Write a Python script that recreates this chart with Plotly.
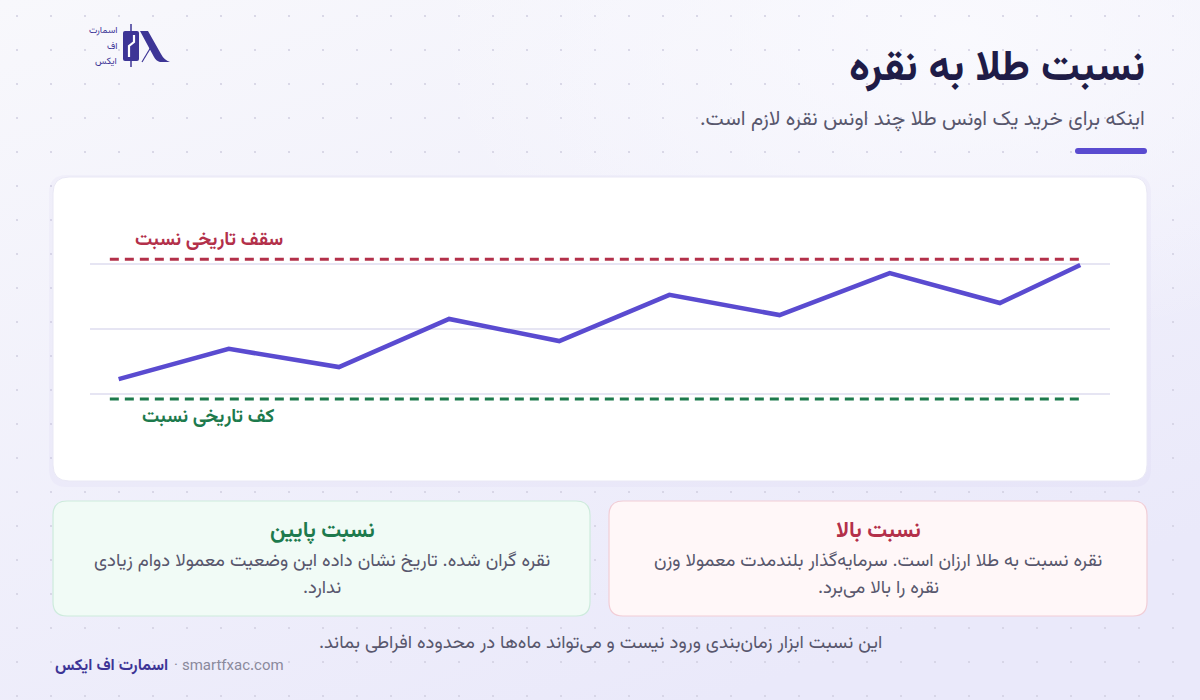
import base64
import plotly.graph_objects as go

W, H = 1200, 700

# ---------------- data ----------------
period = [0, 1, 2, 3, 4, 5, 6, 7, 8, 8.73]
ratio = [54.6, 63.9, 58.3, 73.1, 66.3, 80.5, 74.3, 87.2, 78.0, 89.7]
ceiling_value = 91.5
floor_value = 48.5
guide_span = [-0.08, 8.76]
grid_values = [50, 70, 90]

title = "نسبت طلا به نقره"
subtitle = "اینکه برای خرید یک اونس طلا چند اونس نقره لازم است.\u200f"
ceiling_label = "سقف تاریخی نسبت"
floor_label = "کف تاریخی نسبت"
high_title = "نسبت بالا"
high_lines = ["نقره نسبت به طلا ارزان است. سرمایه\u200cگذار بلندمدت معمولا وزن",
              "نقره را بالا می\u200cبرد.\u200f"]
low_title = "نسبت پایین"
low_lines = ["نقره گران شده. تاریخ نشان داده این وضعیت معمولا دوام زیادی",
             "ندارد.\u200f"]
footnote = "این نسبت ابزار زمان\u200cبندی ورود نیست و می\u200cتواند ماه\u200cها در محدوده افراطی بماند.\u200f"
brand = "اسمارت اف ایکس"
site = "· smartfxac.com"
logo_lines = ["اسمارت", "اف", "ایکس"]

FONT = "Vazirmatn, Noto Sans Arabic, DejaVu Sans, sans-serif"
PURPLE = "#5a4bd0"
RED = "#b3304a"
GREEN = "#1d7a4d"
DARK = "#1f1c47"
GRAY = "#58576d"
LOGO = "#3d3596"


def px(x):
    return x / W


def py(y):
    return 1 - y / H


def rrect(x0, y0, x1, y1, r):
    pts = [
        f"M {px(x0 + r)},{py(y0)}",
        f"L {px(x1 - r)},{py(y0)}",
        f"Q {px(x1)},{py(y0)} {px(x1)},{py(y0 + r)}",
        f"L {px(x1)},{py(y1 - r)}",
        f"Q {px(x1)},{py(y1)} {px(x1 - r)},{py(y1)}",
        f"L {px(x0 + r)},{py(y1)}",
        f"Q {px(x0)},{py(y1)} {px(x0)},{py(y1 - r)}",
        f"L {px(x0)},{py(y0 + r)}",
        f"Q {px(x0)},{py(y0)} {px(x0 + r)},{py(y0)}",
        "Z",
    ]
    return " ".join(pts)


bg_svg = f"""<svg xmlns='http://www.w3.org/2000/svg' width='{W}' height='{H}'>
<defs>
<linearGradient id='g' x1='0' y1='0' x2='0.6' y2='1'>
<stop offset='0' stop-color='#f8f8fc'/>
<stop offset='1' stop-color='#eae9fa'/>
</linearGradient>
<radialGradient id='r' cx='0.8' cy='0.05' r='0.45'>
<stop offset='0' stop-color='#fafafe' stop-opacity='0.9'/>
<stop offset='1' stop-color='#fafafe' stop-opacity='0'/>
</radialGradient>
<pattern id='p' x='0' y='0' width='34' height='34' patternUnits='userSpaceOnUse'>
<circle cx='17' cy='16' r='1.1' fill='#d3d1e3'/>
</pattern>
</defs>
<rect width='{W}' height='{H}' fill='url(#g)'/>
<rect width='{W}' height='{H}' fill='url(#r)'/>
<rect width='{W}' height='{H}' fill='url(#p)'/>
</svg>"""
bg_uri = "data:image/svg+xml;base64," + base64.b64encode(bg_svg.encode()).decode()

fig = go.Figure()

fig.add_trace(go.Scatter(x=guide_span, y=[ceiling_value] * 2, mode="lines",
                         line=dict(color=RED, width=3, dash="9px,6px"), hoverinfo="skip"))
fig.add_trace(go.Scatter(x=guide_span, y=[floor_value] * 2, mode="lines",
                         line=dict(color=GREEN, width=3, dash="9px,6px"), hoverinfo="skip"))
fig.add_trace(go.Scatter(x=period, y=ratio, mode="lines",
                         line=dict(color=PURPLE, width=4.5), hoverinfo="skip"))

shapes = []
# chart card shadow + card
shapes.append(dict(type="path", path=rrect(49, 175, 1151, 487, 18), xref="paper", yref="paper",
                   fillcolor="rgba(205,200,240,0.12)", line=dict(width=0), layer="below"))
shapes.append(dict(type="path", path=rrect(53, 177, 1147, 481, 16), xref="paper", yref="paper",
                   fillcolor="#ffffff", line=dict(color="#e9e8f5", width=1), layer="below"))
# bottom boxes
shapes.append(dict(type="path", path=rrect(53, 501, 590, 616, 14), xref="paper", yref="paper",
                   fillcolor="#f1fbf6", line=dict(color="#cdebdc", width=1.2), layer="below"))
shapes.append(dict(type="path", path=rrect(609, 501, 1147, 616, 14), xref="paper", yref="paper",
                   fillcolor="#fff7f8", line=dict(color="#f1cdd6", width=1.2), layer="below"))
# accent bar under subtitle
shapes.append(dict(type="path", path=rrect(1075, 148, 1147, 154, 3), xref="paper", yref="paper",
                   fillcolor=PURPLE, line=dict(width=0), layer="above"))
# logo
shapes.append(dict(type="line", xref="paper", yref="paper", x0=px(131), x1=px(131), y0=py(24), y1=py(67),
                   line=dict(color=LOGO, width=1.5), layer="above"))
shapes.append(dict(type="path", path=rrect(123, 31, 139, 61, 2), xref="paper", yref="paper",
                   fillcolor=LOGO, line=dict(width=0), layer="above"))
shapes.append(dict(type="path", xref="paper", yref="paper",
                   path=f"M {px(129)},{py(57)} L {px(129)},{py(46)} L {px(134)},{py(42)} L {px(134)},{py(35)}",
                   line=dict(color="#ffffff", width=2.2), layer="above"))
shapes.append(dict(type="path", xref="paper", yref="paper",
                   path=(f"M {px(140)},{py(31)} L {px(148)},{py(31)} L {px(161)},{py(54)} "
                         f"Q {px(164)},{py(60)} {px(170)},{py(62)} L {px(160)},{py(62)} "
                         f"Q {px(156)},{py(61)} {px(154)},{py(57)} Z"),
                   fillcolor=LOGO, line=dict(width=0), layer="above"))
shapes.append(dict(type="line", xref="paper", yref="paper", x0=px(142), x1=px(151), y0=py(62), y1=py(47),
                   line=dict(color=LOGO, width=1.2), layer="above"))

ann = []


def text(x, y, s, size, color, anchor="right", bold=False, align="center"):
    ann.append(dict(x=px(x), y=py(y), xref="paper", yref="paper", text=f"<b>{s}</b>" if bold else s,
                    showarrow=False, xanchor=anchor, yanchor="middle", align=align,
                    font=dict(family=FONT, size=size, color=color)))


text(1147, 70, title, 43, DARK, bold=True)
text(1147, 120, subtitle, 20.5, GRAY)
text(285, 240, ceiling_label, 19, RED, bold=True)
text(277, 417, floor_label, 19, GREEN, bold=True)
text(878, 531, high_title, 22, RED, anchor="center", bold=True)
text(878, 561, high_lines[0], 18.5, GRAY, anchor="center")
text(878, 588, high_lines[1], 18.5, GRAY, anchor="center")
text(322, 531, low_title, 22, GREEN, anchor="center", bold=True)
text(322, 561, low_lines[0], 18.5, GRAY, anchor="center")
text(322, 588, low_lines[1], 18.5, GRAY, anchor="center")
text(600, 643, footnote, 18.5, GRAY, anchor="center")
text(53, 666, brand, 16, LOGO, anchor="left", bold=True)
text(172, 666, site, 15, "#8a899c", anchor="left")
for i, s in enumerate(logo_lines):
    text(119, 31 + i * 15.5, s, 9.5, LOGO)

fig.update_layout(
    width=W, height=H,
    margin=dict(l=0, r=0, t=0, b=0),
    paper_bgcolor="#efeefb",
    plot_bgcolor="rgba(0,0,0,0)",
    showlegend=False,
    hovermode=False,
    shapes=shapes,
    annotations=ann,
    images=[dict(source=bg_uri, xref="paper", yref="paper", x=0, y=1, sizex=1, sizey=1,
                 xanchor="left", yanchor="top", sizing="stretch", layer="below")],
    xaxis=dict(domain=[px(90), px(1110)], range=[-0.26, 9.0], showgrid=False, zeroline=False,
               showticklabels=False, showline=False, fixedrange=True),
    yaxis=dict(domain=[py(460), py(200)], range=[29.7, 109.7], tickvals=grid_values,
               showgrid=True, gridcolor="#e6e5f3", gridwidth=1.5, zeroline=False,
               showticklabels=False, showline=False, fixedrange=True),
)

fig.write_html("out.html", config={"displayModeBar": False},
               post_script="document.body.style.margin='0';document.body.style.overflow='hidden';")
